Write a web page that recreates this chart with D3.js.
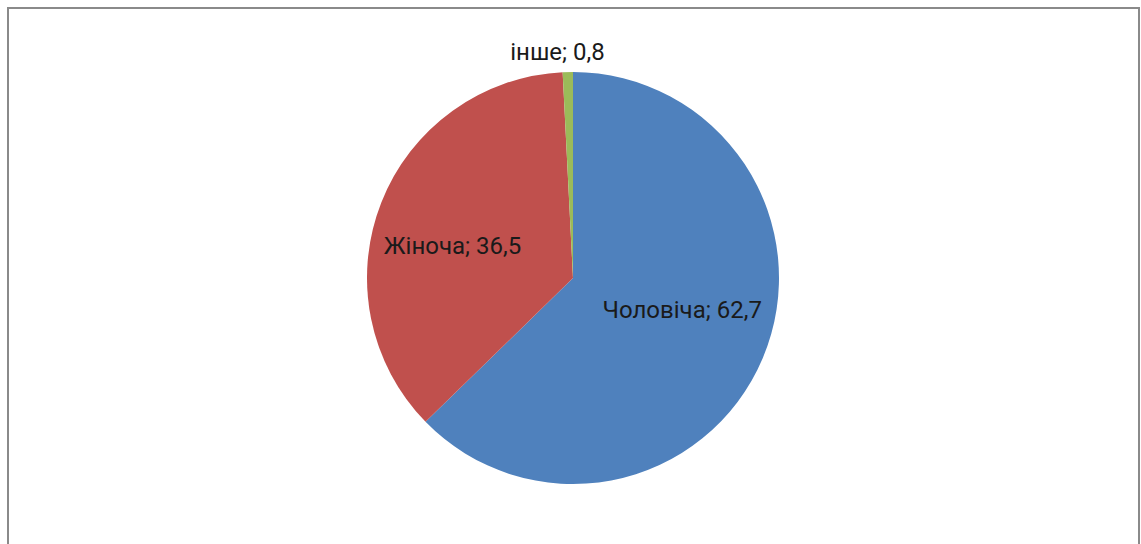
<!DOCTYPE html>
<html>
<head>
<meta charset="utf-8">
<script src="https://cdn.jsdelivr.net/npm/d3@7"></script>
<style>
  html, body { margin: 0; padding: 0; background: #fff; }
  svg { display: block; }
  .label { font-family: Roboto, "Open Sans", sans-serif; font-size: 24px; fill: #1a1a1a; }
</style>
</head>
<body>
<div id="chart-area"><svg></svg></div>
<script>
const chartSize = { width: 1141, height: 544 };

// data
const categories = ["Чоловіча", "Жіноча", "інше"];
const values = [62.7, 36.5, 0.8];
const colors = ["#4f81bd", "#c0504d", "#9bbb59"];

const center = { x: 573, y: 278 };
const radius = 206;

const numFormat = d => String(d).replace(".", ",");

const drawPie = () => {
    const svg = d3.select("#chart-area svg")
        .attr("width", chartSize.width)
        .attr("height", chartSize.height);

    // outer frame
    svg.append("rect")
        .attr("x", 8)
        .attr("y", 8)
        .attr("width", 1131)
        .attr("height", 541)
        .attr("fill", "#fff")
        .attr("stroke", "#8a8a8a")
        .attr("stroke-width", 2);

    const slices = categories.map((name, i) => ({ name, value: values[i], color: colors[i] }));

    const pie = d3.pie()
        .sort(null)
        .value(d => d.value);

    const arc = d3.arc()
        .innerRadius(0)
        .outerRadius(radius);

    const g = svg.append("g")
        .attr("transform", `translate(${center.x},${center.y})`);

    const arcs = pie(slices);

    g.selectAll("path")
        .data(arcs)
        .enter()
        .append("path")
        .attr("d", arc)
        .attr("fill", d => d.data.color)
        .attr("stroke", "none");

    // labels: inside for big slices (elliptical placement), outside for tiny ones
    const total = d3.sum(values);
    const labelPos = d => {
        const a = (d.startAngle + d.endAngle) / 2;
        if (d.data.value / total < 0.05) {
            const r = radius + 12;
            return [r * Math.sin(a) - 10, -r * Math.cos(a)];
        }
        return [124 * Math.sin(a) - 5, -85 * Math.cos(a) + 7];
    };

    g.selectAll("text.label")
        .data(arcs)
        .enter()
        .append("text")
        .attr("class", "label")
        .attr("text-anchor", "middle")
        .attr("x", d => labelPos(d)[0])
        .attr("y", d => labelPos(d)[1])
        .text(d => `${d.data.name}; ${numFormat(d.data.value)}`);
};

window.onload = drawPie;
</script>
</body>
</html>
